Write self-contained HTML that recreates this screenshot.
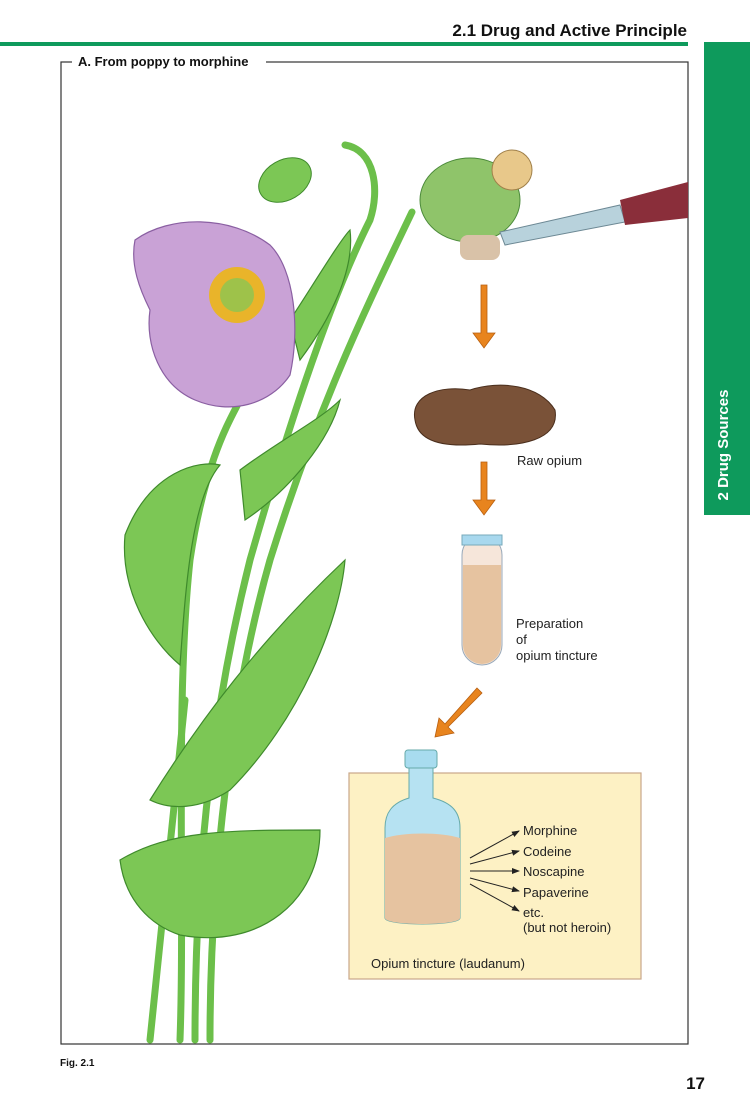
<!DOCTYPE html>
<html><head><meta charset="utf-8"><style>
body{margin:0;background:#fff;width:753px;height:1119px;overflow:hidden}
svg{display:block}
text{font-family:"Liberation Sans",sans-serif}
</style></head><body>
<svg width="753" height="1119" viewBox="0 0 753 1119" xmlns="http://www.w3.org/2000/svg">
<defs>
<marker id="ah" markerWidth="8" markerHeight="8" refX="7" refY="4" orient="auto"><path d="M0,1 L8,4 L0,7 Z" fill="#222"/></marker>
</defs>
<text x="687" y="36" text-anchor="end" font-size="17" font-weight="bold" fill="#111">2.1  Drug and Active Principle</text>
<rect x="0" y="42" width="688" height="4" fill="#0e9a5c"/>
<rect x="704" y="42" width="46" height="473" fill="#0e9a5c"/>
<text transform="translate(728,445) rotate(-90)" text-anchor="middle" font-size="15" font-weight="bold" fill="#fff">2  Drug Sources</text>
<rect x="61" y="62" width="627" height="982" fill="none" stroke="#333" stroke-width="1.2"/>
<rect x="72" y="54" width="194" height="16" fill="#fff"/>
<text x="78" y="66" font-size="13" font-weight="bold" fill="#111">A. From poppy to morphine</text>
<text x="60" y="1066" font-size="10" font-weight="bold" fill="#111">Fig. 2.1</text>
<text x="705" y="1089" text-anchor="end" font-size="17" font-weight="bold" fill="#111">17</text>

<!-- stems -->
<g fill="none" stroke="#6cbf4a" stroke-width="7" stroke-linecap="round">
<path d="M180,1040 C185,900 175,700 190,560 C205,460 230,420 240,400"/>
<path d="M195,1040 C195,850 215,700 250,560 C290,420 330,300 370,220 C380,190 375,150 345,145"/>
<path d="M210,1040 C210,880 230,700 270,560 C320,400 370,300 412,212"/>
<path d="M150,1040 C165,900 175,800 185,700"/>
</g>
<!-- leaves -->
<g fill="#7cc755" stroke="#3f8a2c" stroke-width="1.2">
<path d="M125,535 C150,470 200,460 220,465 C190,500 185,600 180,665 C150,640 120,590 125,535Z"/>
<path d="M150,800 C200,720 260,640 345,560 C340,620 300,720 230,790 C200,810 170,810 150,800Z"/>
<path d="M120,860 C170,830 230,830 320,830 C320,900 260,950 180,935 C150,925 125,900 120,860Z"/>
<path d="M240,470 C280,440 320,420 340,400 C330,440 290,490 245,520Z"/>
<path d="M290,320 C310,290 340,240 350,230 C355,270 330,320 300,360Z"/>
</g>
<!-- flower -->
<path d="M135,240 C170,215 230,215 270,245 C295,270 300,330 290,375 C270,405 230,415 195,400 C160,385 145,345 150,310 C140,290 130,265 135,240Z" fill="#c9a2d6" stroke="#8a5fa2" stroke-width="1.2"/>
<circle cx="237" cy="295" r="28" fill="#e9b42a"/>
<circle cx="237" cy="295" r="17" fill="#9ec24a"/>
<!-- bud -->
<ellipse cx="285" cy="180" rx="28" ry="20" transform="rotate(-30 285 180)" fill="#7cc755" stroke="#3f8a2c"/>
<!-- pod -->
<ellipse cx="470" cy="200" rx="50" ry="42" fill="#8fc46a" stroke="#4b8a3a"/>
<circle cx="512" cy="170" r="20" fill="#e8c88a" stroke="#a0804a"/>
<rect x="460" y="235" width="40" height="25" rx="8" fill="#d9c2a8"/>
<!-- knife -->
<path d="M500,232 L620,205 L625,222 L505,245Z" fill="#b8d2dc" stroke="#6c8894"/>
<path d="M620,200 L688,182 L688,218 L625,225Z" fill="#8a2e3a"/>
<!-- arrows -->
<g fill="#e8841e" stroke="#b85f10" stroke-width="0.8">
<path d="M481,285 h6 v48 h8 l-11,15 l-11,-15 h8Z"/>
<path d="M481,462 h6 v38 h8 l-11,15 l-11,-15 h8Z"/>
<path d="M477,688 l5,5 l-34,34 l6,6 l-19,4 l4,-19 l6,6Z"/>
</g>
<!-- raw opium -->
<path d="M415,420 C410,395 440,385 470,390 C500,380 540,385 555,410 C560,440 520,448 480,444 C440,448 418,440 415,420Z" fill="#7a5238" stroke="#4a2e1c"/>
<text x="517" y="465" font-size="13" fill="#222">Raw opium</text>
<!-- test tube -->
<rect x="462" y="535" width="40" height="130" rx="20" fill="#f6e6da" stroke="#9ab" />
<path d="M463,565 h38 v80 a19,19 0 0 1 -38,0Z" fill="#e6c3a0"/>
<rect x="462" y="535" width="40" height="10" fill="#a8d8ee" stroke="#7ab"/>
<text font-size="13" fill="#222"><tspan x="516" y="628">Preparation</tspan><tspan x="516" y="644">of</tspan><tspan x="516" y="660">opium tincture</tspan></text>
<!-- yellow box -->
<rect x="349" y="773" width="292" height="206" fill="#fdf1c4" stroke="#c9a78a" stroke-width="1.2"/>
<rect x="405" y="750" width="32" height="18" rx="3" fill="#a8dcef" stroke="#6aa"/>
<path d="M409,768 h24 v30 c20,5 27,15 27,30 v90 c0,8 -75,8 -75,0 v-90 c0,-15 7,-25 24,-30Z" fill="#b6e2f2" stroke="#6aa"/>
<path d="M385,838 c20,-6 55,-6 75,0 v80 c0,8 -75,8 -75,0Z" fill="#e6c3a0"/>
<g stroke="#222" stroke-width="1" marker-end="url(#ah)">
<line x1="470" y1="858" x2="519" y2="831"/>
<line x1="470" y1="864" x2="519" y2="851"/>
<line x1="470" y1="871" x2="519" y2="871"/>
<line x1="470" y1="878" x2="519" y2="891"/>
<line x1="470" y1="884" x2="519" y2="911"/>
</g>
<g font-size="13" fill="#222">
<text x="523" y="835">Morphine</text>
<text x="523" y="856">Codeine</text>
<text x="523" y="876">Noscapine</text>
<text x="523" y="897">Papaverine</text>
<text x="523" y="917">etc.</text>
<text x="523" y="932">(but not heroin)</text>
<text x="371" y="968">Opium tincture (laudanum)</text>
</g>
</svg>
</body></html>
